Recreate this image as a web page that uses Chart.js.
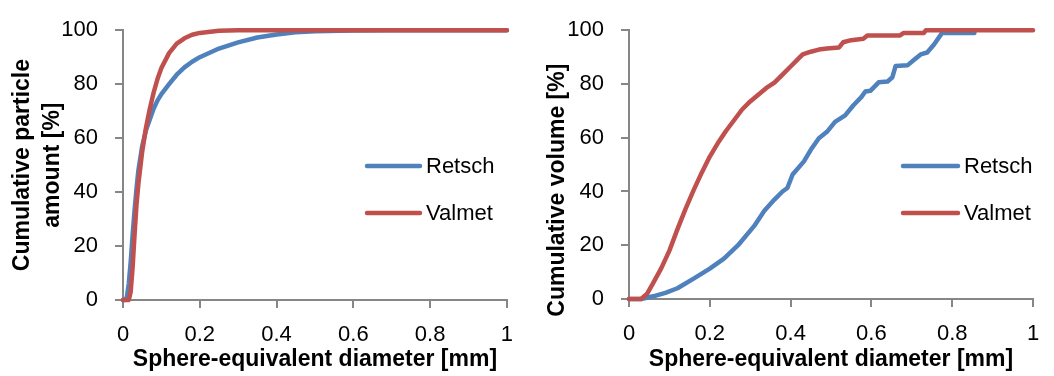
<!DOCTYPE html>
<html>
<head>
<meta charset="utf-8">
<script src="https://cdn.jsdelivr.net/npm/chart.js@4.4.1/dist/chart.umd.min.js"></script>
<style>
  html, body { margin:0; padding:0; background:#fff; }
  .wrap { display:flex; width:1054px; height:376px; }
  .box { position:relative; width:527px; height:376px; }
</style>
</head>
<body>
<div class="wrap">
  <div class="box"><canvas id="chartAmount"></canvas></div>
  <div class="box"><canvas id="chartVolume"></canvas></div>
</div>
<script>
// tick labels
const xTicks = [0, 0.2, 0.4, 0.6, 0.8, 1];
const yTicks = [0, 20, 40, 60, 80, 100];

// left chart: cumulative particle amount [%] vs diameter [mm]
const amountRetschD = [0, 0.005, 0.01, 0.015, 0.02, 0.025, 0.03, 0.035, 0.04, 0.05, 0.06, 0.07, 0.08, 0.09, 0.1, 0.12, 0.14, 0.16, 0.18, 0.2, 0.25, 0.3, 0.35, 0.4, 0.45, 0.5, 0.6, 0.7, 1.0];
const amountRetsch  = [0, 0, 1, 6, 14, 24, 33, 41, 48, 57, 63, 67, 71, 74, 76.3, 80, 83.5, 86.2, 88.3, 90, 93.2, 95.5, 97.3, 98.4, 99.2, 99.6, 99.9, 100, 100];
const amountValmetD = [0, 0.015, 0.02, 0.025, 0.03, 0.035, 0.04, 0.05, 0.06, 0.07, 0.08, 0.09, 0.1, 0.12, 0.14, 0.16, 0.18, 0.2, 0.25, 0.3, 1.0];
const amountValmet  = [0, 0, 3, 12, 24, 35, 43, 55, 64, 71, 77, 82, 86, 91.5, 95, 97, 98.3, 99, 99.8, 100, 100];

// right chart: cumulative volume [%] vs diameter [mm]
const volumeRetschD = [0, 0.03, 0.06, 0.09, 0.12, 0.16, 0.2, 0.235, 0.27, 0.31, 0.335, 0.36, 0.38, 0.392, 0.405, 0.433, 0.45, 0.47, 0.49, 0.51, 0.535, 0.555, 0.575, 0.585, 0.598, 0.618, 0.64, 0.652, 0.66, 0.69, 0.705, 0.722, 0.738, 0.755, 0.775, 0.855];
const volumeRetsch  = [0, 0, 1, 2.3, 4, 7.6, 11.3, 15, 20, 27.2, 32.8, 37, 40, 41.3, 46.3, 51.2, 55.5, 59.8, 62.2, 65.9, 68.3, 72, 75.1, 77.2, 77.5, 80.6, 80.9, 82.5, 86.7, 87, 88.9, 91, 91.7, 94.7, 99, 99];
const volumeValmetD = [0, 0.03, 0.045, 0.06, 0.08, 0.1, 0.12, 0.14, 0.16, 0.18, 0.2, 0.22, 0.24, 0.26, 0.28, 0.3, 0.32, 0.34, 0.36, 0.38, 0.4, 0.42, 0.43, 0.45, 0.47, 0.49, 0.52, 0.53, 0.55, 0.58, 0.59, 0.67, 0.68, 0.73, 0.735, 1.0];
const volumeValmet  = [0, 0, 2, 6, 11.5, 18, 26, 33.5, 40.5, 47, 53, 58, 62.5, 66.5, 70.5, 73.5, 76, 78.5, 80.5, 83.5, 86.5, 89.5, 91, 92, 92.8, 93.2, 93.6, 95.5, 96.3, 96.8, 98, 98, 99, 99, 100, 100];

const FONT = "'Liberation Sans', Arial, sans-serif";
const BLUE = "#4F81BD";
const RED = "#C0504D";
const AXIS = "#868686";
const LINE_W = 4.5;

const toPoints = (xs, ys) => xs.map((x, i) => ({ x: x, y: ys[i] }));

// legend drawn inside the plot, line sample + label
const lineLegend = {
  id: "lineLegend",
  afterDatasetsDraw(chart, args, opts) {
    const ctx = chart.ctx;
    ctx.save();
    ctx.font = "22px " + FONT;
    ctx.textBaseline = "middle";
    chart.data.datasets.forEach((ds, i) => {
      const y = opts.y + i * opts.gap;
      ctx.strokeStyle = ds.borderColor;
      ctx.lineWidth = ds.borderWidth;
      ctx.lineCap = "round";
      ctx.beginPath();
      ctx.moveTo(opts.x, y);
      ctx.lineTo(opts.x + opts.len, y);
      ctx.stroke();
      ctx.fillStyle = "#000";
      ctx.fillText(ds.label, opts.x + opts.len + 6, y + 1);
    });
    ctx.restore();
  }
};

function makeChart(id, series, cfg) {
  return new Chart(document.getElementById(id), {
    type: "line",
    data: {
      datasets: [
        { label: "Retsch", data: series.retsch, borderColor: BLUE, borderWidth: LINE_W, order: 1 },
        { label: "Valmet", data: series.valmet, borderColor: RED, borderWidth: LINE_W, order: 0 }
      ]
    },
    options: {
      responsive: true,
      maintainAspectRatio: false,
      animation: false,
      layout: { padding: cfg.padding },
      elements: {
        point: { radius: 0 },
        line: { tension: 0, borderCapStyle: "round", borderJoinStyle: "round", fill: false }
      },
      datasets: { line: { clip: false } },
      plugins: {
        legend: { display: false },
        tooltip: { enabled: false },
        lineLegend: cfg.legend
      },
      scales: {
        x: {
          type: "linear", min: 0, max: 1,
          afterBuildTicks: s => { s.ticks = xTicks.map(v => ({ value: v })); },
          afterFit: s => { s.height = cfg.xAxisH; },
          ticks: { callback: v => String(v), font: { family: FONT, size: 22 }, color: "#000", padding: 14, maxRotation: 0, autoSkip: false },
          grid: { drawOnChartArea: false, drawTicks: true, tickLength: 8, color: AXIS, lineWidth: 2 },
          border: { color: AXIS, width: 2 },
          title: { display: true, text: "Sphere-equivalent diameter [mm]", font: { family: FONT, size: 23, weight: "bold" }, color: "#000", padding: { top: 0, bottom: 3 } }
        },
        y: {
          type: "linear", min: 0, max: 100,
          afterBuildTicks: s => { s.ticks = yTicks.map(v => ({ value: v })); },
          afterFit: s => { s.width = cfg.yAxisW; },
          ticks: { font: { family: FONT, size: 22 }, color: "#000", padding: 17 },
          grid: { drawOnChartArea: false, drawTicks: true, tickLength: 8, color: AXIS, lineWidth: 2 },
          border: { color: AXIS, width: 2 },
          title: { display: true, text: cfg.yTitle, font: { family: FONT, size: 23, weight: "bold", lineHeight: 1.3 }, color: "#000", padding: { top: cfg.yTitlePad, bottom: 0 } }
        }
      }
    },
    plugins: [lineLegend]
  });
}

makeChart("chartAmount",
  { retsch: toPoints(amountRetschD, amountRetsch), valmet: toPoints(amountValmetD, amountValmet) },
  {
    padding: { left: 0, right: 20, top: 18, bottom: 0 },
    xAxisH: 76, yAxisW: 123, yTitlePad: 8,
    yTitle: ["Cumulative particle", "amount [%]"],
    legend: { x: 367, y: 166, gap: 47, len: 53 }
  });

makeChart("chartVolume",
  { retsch: toPoints(volumeRetschD, volumeRetsch), valmet: toPoints(volumeValmetD, volumeValmet) },
  {
    padding: { left: 0, right: 21, top: 28, bottom: 0 },
    xAxisH: 77, yAxisW: 102, yTitlePad: 16,
    yTitle: "Cumulative volume [%]        ",
    legend: { x: 376, y: 166, gap: 47, len: 55 }
  });
</script>
</body>
</html>
